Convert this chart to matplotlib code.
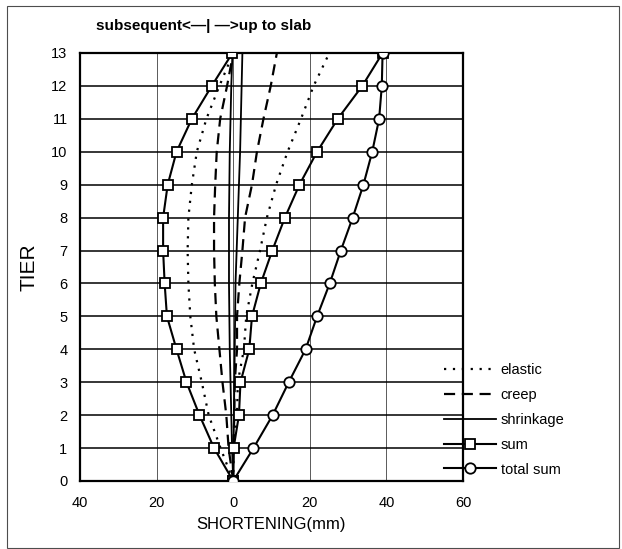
import matplotlib
matplotlib.use("Agg")
import matplotlib.pyplot as plt
from matplotlib.lines import Line2D
from matplotlib.patches import Rectangle
from matplotlib.ticker import FuncFormatter

plt.rcParams['font.family'] = ['Liberation Sans', 'DejaVu Sans']

tiers = list(range(14))

# subsequent shortening (drawn to the left, negative)
sub_elastic = [0, -3.3, -6.4, -8.2, -10.2, -11.2, -11.7, -11.9, -11.7, -10.8, -9.5, -7.0, -3.6, 0.0]
sub_creep = [0, -1.2, -1.8, -2.8, -3.6, -4.4, -4.8, -5.0, -5.0, -4.7, -4.3, -3.4, -1.6, 0.0]
sub_shrink = [0, -0.3, -0.5, -0.7, -0.9, -1.0, -1.1, -1.1, -1.1, -1.0, -0.9, -0.7, -0.5, -0.2]
sub_sum = [0, -5.0, -8.8, -12.2, -14.8, -17.3, -17.9, -18.3, -18.3, -17.1, -14.8, -10.8, -5.6, -0.2]

# shortening up to slab (drawn to the right)
up_elastic = [0, 0.05, 1.0, 1.2, 2.8, 3.4, 5.0, 7.0, 8.8, 11.2, 14.2, 17.7, 21.0, 25.1]
up_creep = [0, 0.0, 0.3, 0.4, 1.0, 1.0, 1.6, 2.4, 3.1, 4.9, 6.2, 7.9, 9.8, 11.4]
up_shrink = [0, 0.1, 0.2, 0.3, 0.4, 0.5, 0.6, 0.9, 1.2, 1.5, 1.8, 2.0, 2.2, 2.4]
up_sum = [0, 0.1, 1.5, 1.9, 4.2, 4.9, 7.2, 10.2, 13.5, 17.3, 21.9, 27.3, 33.7, 39.0]

total_sum = [0, 5.3, 10.3, 14.5, 18.9, 21.9, 25.2, 28.1, 31.2, 34.0, 36.3, 38.1, 38.8, 39.0]

x_ticks = [-40, -20, 0, 20, 40, 60]

fig = plt.figure(figsize=(6.22, 5.49), dpi=100)
ax = fig.add_axes([80 / 622, 1 - 481 / 549, 383 / 622, 428 / 549])

# styles
el = dict(color='black', lw=1.6, linestyle=(0, (1, 3)))
cr = dict(color='black', lw=1.6, linestyle=(0, (5, 3)))
sh = dict(color='black', lw=1.3, linestyle='-')
sm = dict(color='black', lw=1.5, marker='s', markersize=6.5, markerfacecolor='white',
          markeredgewidth=1.3)
ts = dict(color='black', lw=1.5, marker='o', markersize=7.5, markerfacecolor='white',
          markeredgewidth=1.3)

for e, c, s, t in [(sub_elastic, sub_creep, sub_shrink, sub_sum),
                   (up_elastic, up_creep, up_shrink, up_sum)]:
    ax.plot(e, tiers, **el)
    ax.plot(c, tiers, **cr)
    ax.plot(s, tiers, **sh)
    ax.plot(t, tiers, zorder=4, **sm)
ax.plot(total_sum, tiers, zorder=4, **ts)

ax.set_xlim(-40, 60)
ax.set_ylim(0, 13)
ax.set_xticks(x_ticks)
ax.set_yticks(tiers)
ax.xaxis.set_major_formatter(FuncFormatter(lambda v, p: f"{abs(v):.0f}"))
ax.tick_params(length=0, labelsize=10.5)
ax.tick_params(axis='x', pad=11)
ax.tick_params(axis='y', pad=9)
ax.xaxis.grid(True, color='0.35', lw=0.7)
ax.yaxis.grid(True, color='black', lw=1.1)
ax.set_axisbelow(True)
for sp in ax.spines.values():
    sp.set_linewidth(1.6)

ax.set_xlabel("SHORTENING(mm)", fontsize=12, labelpad=5)
ax.set_ylabel("TIER", fontsize=15, labelpad=9)

fig.text(96 / 622, 1 - 26 / 549, "subsequent<\u2014| \u2014>up to slab",
         ha='left', va='center', fontsize=11, fontweight='bold')

handles = [Line2D([], [], **el), Line2D([], [], **cr), Line2D([], [], **sh),
           Line2D([], [], **sm), Line2D([], [], **ts)]
labels = ["elastic", "creep", "shrinkage", "sum", "total sum"]
fig.legend(handles, labels, loc='upper left', bbox_to_anchor=(438 / 622, 1 - 357 / 549),
           frameon=False, fontsize=10.5, handlelength=3.6, handletextpad=0.3,
           labelspacing=0.75, borderaxespad=0)

fig.patches.append(Rectangle((7 / 622, 1 / 549), 612 / 622, 542 / 549,
                             transform=fig.transFigure, fill=False,
                             edgecolor='0.3', lw=0.8))

fig.savefig("out.png", dpi=100)
